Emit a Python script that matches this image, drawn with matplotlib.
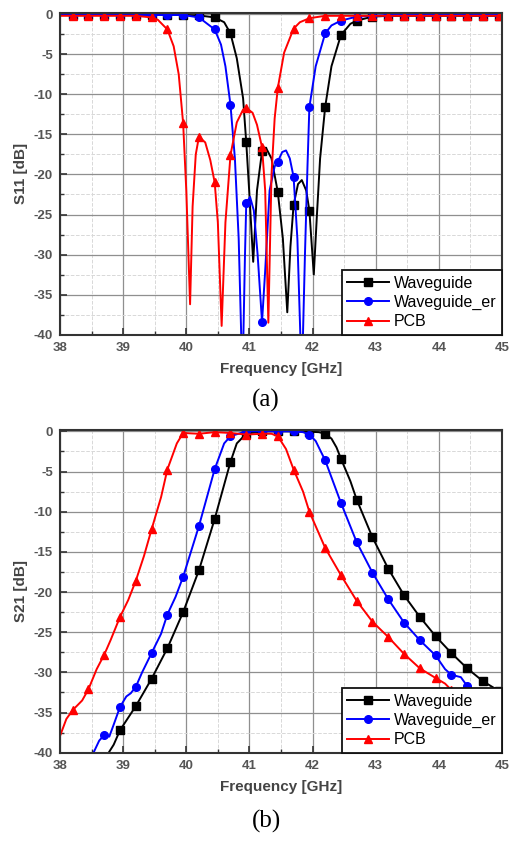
import matplotlib
matplotlib.use('Agg')
import matplotlib.pyplot as plt
from matplotlib.ticker import MultipleLocator

plt.rcParams['font.family'] = ['Liberation Sans', 'DejaVu Sans']
plt.rcParams['axes.unicode_minus'] = False

# ---- S11 data (GHz, dB) ----
wg_s11_f = [38.0, 38.2, 38.45, 38.7, 38.95, 39.2, 39.45, 39.7, 39.95, 40.2, 40.45, 40.6, 40.7,
            40.8, 40.9, 40.95, 41.0, 41.06, 41.12, 41.2, 41.27, 41.35, 41.45, 41.53, 41.6, 41.65,
            41.7, 41.77, 41.83, 41.9, 41.95, 42.02, 42.07, 42.12, 42.2, 42.3, 42.45, 42.6, 42.7,
            42.95, 43.2, 43.45, 43.7, 43.95, 44.2, 44.45, 44.7, 44.95, 45.0]
wg_s11 = [-0.1, -0.1, -0.1, -0.1, -0.1, -0.1, -0.1, -0.1, -0.1, -0.15, -0.4, -1.0, -2.4,
          -5.5, -10.5, -16.0, -22.5, -30.9, -22.0, -17.1, -16.8, -18.0, -22.2, -28.0, -37.2, -29.0,
          -23.8, -21.2, -20.7, -22.0, -24.5, -32.5, -25.0, -18.0, -11.6, -6.5, -2.6, -1.2, -0.8,
          -0.3, -0.2, -0.2, -0.2, -0.2, -0.2, -0.2, -0.2, -0.2, -0.2]

er_s11_f = [38.0, 38.2, 38.45, 38.7, 38.95, 39.2, 39.45, 39.7, 39.95, 40.2, 40.45, 40.55, 40.62,
            40.7, 40.77, 40.83, 40.89, 40.93, 40.95, 41.01, 41.07, 41.13, 41.2, 41.25, 41.32,
            41.4, 41.45, 41.52, 41.58, 41.64, 41.7, 41.76, 41.83, 41.88, 41.92, 41.95, 42.05,
            42.2, 42.3, 42.45, 42.7, 42.95, 43.2, 43.45, 43.7, 43.95, 44.2, 44.45, 44.7, 44.95, 45.0]
er_s11 = [-0.1, -0.1, -0.1, -0.1, -0.1, -0.1, -0.1, -0.1, -0.1, -0.4, -1.9, -3.8, -6.5,
          -11.3, -18.0, -28.0, -46.0, -30.0, -23.6, -22.8, -24.5, -30.0, -38.4, -32.0, -22.0,
          -19.0, -18.4, -17.2, -17.0, -18.0, -20.3, -28.0, -46.0, -30.0, -19.0, -11.6, -6.5,
          -2.4, -1.4, -0.8, -0.3, -0.2, -0.1, -0.1, -0.1, -0.1, -0.1, -0.1, -0.1, -0.1, -0.1]

pcb_s11_f = [38.0, 38.2, 38.45, 38.7, 38.95, 39.2, 39.45, 39.55, 39.7, 39.8, 39.88, 39.95, 40.0,
             40.06, 40.1, 40.15, 40.2, 40.3, 40.38, 40.45, 40.5, 40.56, 40.62, 40.7, 40.8, 40.9,
             40.95, 41.05, 41.12, 41.2, 41.25, 41.3, 41.35, 41.4, 41.45, 41.55, 41.7, 41.8, 41.95,
             42.2, 42.45, 42.7, 42.95, 43.2, 43.45, 43.7, 43.95, 44.2, 44.45, 44.7, 44.95, 45.0]
pcb_s11 = [-0.2, -0.2, -0.2, -0.2, -0.2, -0.2, -0.4, -0.7, -1.9, -4.0, -7.5, -13.6, -22.0,
           -36.2, -24.0, -17.5, -15.3, -16.0, -18.2, -21.0, -26.0, -38.9, -26.0, -17.6, -13.5, -11.9,
           -11.7, -12.3, -13.8, -16.6, -22.0, -38.5, -20.0, -13.0, -9.2, -4.8, -1.8, -1.0, -0.5,
           -0.2, -0.2, -0.2, -0.2, -0.2, -0.2, -0.2, -0.2, -0.2, -0.2, -0.2, -0.2, -0.2]

# ---- S21 data ----
wg_s21_f = [38.7, 38.77, 38.85, 38.95, 39.05, 39.2, 39.45, 39.7, 39.95, 40.2, 40.45, 40.7, 40.8,
            40.95, 41.2, 41.45, 41.7, 41.95, 42.1, 42.2, 42.3, 42.38, 42.45, 42.6, 42.7, 42.95,
            43.2, 43.45, 43.7, 43.95, 44.2, 44.45, 44.7, 44.95, 45.0]
wg_s21 = [-41.0, -40.0, -39.0, -37.2, -36.0, -34.2, -30.8, -27.0, -22.5, -17.3, -10.9, -3.8, -1.5,
          -0.3, 0.0, 0.0, 0.0, -0.05, -0.1, -0.3, -0.9, -2.0, -3.4, -6.2, -8.5, -13.2,
          -17.1, -20.4, -23.1, -25.5, -27.6, -29.5, -31.1, -32.3, -32.6]

er_s21_f = [38.45, 38.53, 38.62, 38.7, 38.78, 38.85, 38.95, 39.05, 39.12, 39.2, 39.3, 39.45, 39.6,
            39.7, 39.83, 39.95, 40.2, 40.45, 40.6, 40.7, 40.95, 41.2, 41.45, 41.7, 41.85, 41.95,
            42.05, 42.2, 42.45, 42.7, 42.95, 43.2, 43.45, 43.7, 43.95, 44.1, 44.2, 44.35, 44.45, 44.6]
er_s21 = [-42.0, -40.0, -38.5, -37.8, -38.0, -36.5, -34.3, -33.0, -32.6, -31.8, -30.0, -27.6, -25.2,
          -22.8, -20.6, -18.1, -11.8, -4.7, -1.5, -0.6, 0.0, 0.0, 0.0, 0.0, -0.1, -0.4,
          -1.2, -3.6, -8.9, -13.8, -17.6, -20.9, -23.8, -26.0, -27.9, -29.6, -30.3, -30.6, -31.7, -33.5]

pcb_s21_f = [38.0, 38.1, 38.2, 38.35, 38.45, 38.58, 38.7, 38.8, 38.95, 39.08, 39.2, 39.33, 39.45,
             39.6, 39.7, 39.85, 39.95, 40.2, 40.45, 40.7, 40.95, 41.2, 41.35, 41.45, 41.58, 41.7,
             41.85, 41.95, 42.2, 42.45, 42.7, 42.95, 43.2, 43.45, 43.7, 43.95, 44.1, 44.2, 44.4]
pcb_s21 = [-37.9, -35.8, -34.7, -33.5, -32.1, -29.6, -27.8, -26.0, -23.1, -21.0, -18.6, -15.5, -12.2,
           -8.2, -4.75, -1.5, -0.2, -0.3, -0.1, -0.2, -0.4, -0.3, -0.3, -0.6, -2.2, -4.75,
           -7.5, -10.0, -14.5, -17.9, -21.1, -23.7, -25.6, -27.7, -29.5, -30.7, -31.4, -32.2, -33.5]

labels = ['Waveguide', 'Waveguide_er', 'PCB']
colors = ['#000000', '#0000ff', '#ff0000']
markers = ['s', 'o', '^']


def marker_idx(freqs):
    # symbols sit on the 38.2 + 0.25k grid
    return [i for i, f in enumerate(freqs) if abs((f - 38.2) / 0.25 - round((f - 38.2) / 0.25)) < 1e-6]


def style_axes(ax, ylabel):
    ax.set_xlim(38, 45)
    ax.set_ylim(-40, 0.2)
    ax.xaxis.set_major_locator(MultipleLocator(1))
    ax.xaxis.set_minor_locator(MultipleLocator(0.5))
    ax.yaxis.set_major_locator(MultipleLocator(5))
    ax.yaxis.set_minor_locator(MultipleLocator(2.5))
    ax.grid(which='major', color='#8f8f8f', lw=0.9)
    ax.grid(which='minor', color='#d8d8d8', lw=0.7, ls='--')
    ax.set_axisbelow(True)
    ax.tick_params(which='both', direction='in', labelsize=9.5, labelcolor='#555555', color='#333333')
    ax.tick_params(which='major', length=5, width=1.2, pad=5)
    ax.tick_params(which='minor', length=3, width=1.0)
    for t in ax.get_xticklabels() + ax.get_yticklabels():
        t.set_fontweight('bold')
    for s in ax.spines.values():
        s.set_linewidth(1.5)
        s.set_color('#333333')
    ax.set_xlabel('Frequency [GHz]', fontsize=11, fontweight='bold', color='#444444', labelpad=6)
    ax.set_ylabel(ylabel, fontsize=11, fontweight='bold', color='#444444', labelpad=4)
    leg = ax.legend(loc='lower right', borderaxespad=0, fontsize=11.5, fancybox=False,
                    framealpha=1, edgecolor='#111111', handlelength=2.6, handletextpad=0.3,
                    labelspacing=0.25, borderpad=0.35)
    leg.get_frame().set_linewidth(1.3)


fig = plt.figure(figsize=(5.09, 8.41), dpi=100)
ax1 = fig.add_axes([0.118, 0.602, 0.868, 0.383])
ax2 = fig.add_axes([0.118, 0.105, 0.868, 0.384])

s11 = [(wg_s11_f, wg_s11), (er_s11_f, er_s11), (pcb_s11_f, pcb_s11)]
s21 = [(wg_s21_f, wg_s21), (er_s21_f, er_s21), (pcb_s21_f, pcb_s21)]

for ax, data, ylab in [(ax1, s11, 'S11 [dB]'), (ax2, s21, 'S21 [dB]')]:
    for (f, v), lab, c, m in zip(data, labels, colors, markers):
        ax.plot(f, v, color=c, lw=1.4, marker=m, markersize=5.5, markevery=marker_idx(f), label=lab)
    style_axes(ax, ylab)

fig.text(0.523, 0.524, '(a)', ha='center', va='center', fontsize=18, family='Liberation Serif')
fig.text(0.523, 0.023, '(b)', ha='center', va='center', fontsize=18, family='Liberation Serif')

fig.savefig('out.png', dpi=100)
